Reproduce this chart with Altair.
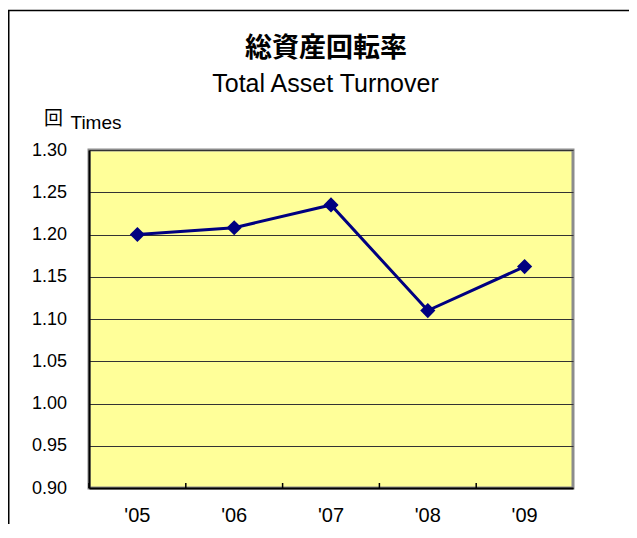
import altair as alt
import pandas as pd

# ---- data ----
YEARS = ["'05", "'06", "'07", "'08", "'09"]
TURNOVER = [1.200, 1.208, 1.235, 1.110, 1.162]
Y_TICKS = [0.90, 0.95, 1.00, 1.05, 1.10, 1.15, 1.20, 1.25, 1.30]
TITLE_JA = "総資産回転率"
TITLE_EN = "Total Asset Turnover"
UNIT_JA = "回"
UNIT_EN = "Times"

df = pd.DataFrame({"year": YEARS, "value": TURNOVER})

NAVY = "#000080"
LATIN = "Liberation Sans"
CJK = "Noto Sans CJK JP"
W, H = 484, 338
PAD = {"left": 81, "top": 142, "right": 56, "bottom": 36}

x_scale = alt.Scale(type="band", domain=YEARS, paddingInner=0, paddingOuter=0)
y_scale = alt.Scale(domain=[0.9, 1.3], nice=False, zero=False)

x_enc = alt.X(
    "year:N", sort=YEARS, scale=x_scale,
    axis=alt.Axis(title=None, labelAngle=0, ticks=False, labelPadding=33,
                  labelFont=LATIN, labelFontSize=20, labelColor="black",
                  labelBaseline="alphabetic",
                  domainColor="black", domainWidth=2, grid=False),
)
y_enc = alt.Y(
    "value:Q", scale=y_scale,
    axis=alt.Axis(title=None, values=Y_TICKS, format=".2f", ticks=False,
                  labelPadding=22.5, labelFont=LATIN, labelFontSize=18,
                  labelColor="black", domainColor="black", domainWidth=2,
                  grid=True, gridColor="#333333", gridWidth=1),
)

base = alt.Chart(df)
line = base.mark_line(color=NAVY, strokeWidth=3).encode(x=x_enc, y=y_enc)
pts = base.mark_point(shape="diamond", filled=True, size=230, color=NAVY,
                      opacity=1).encode(x=alt.X("year:N", sort=YEARS),
                                        y="value:Q")
xticks = base.mark_rule(color="black", strokeWidth=1.5).encode(
    x=alt.X("year:N", sort=YEARS, bandPosition=0),
    y=alt.value(H - 5), y2=alt.value(H))


def label(txt, x, y, font, size, weight="normal", align="left"):
    return alt.Chart(alt.Data(values=[{"t": txt}])).mark_text(
        font=font, fontSize=size, fontWeight=weight, align=align,
        baseline="alphabetic", color="black",
    ).encode(x=alt.value(x), y=alt.value(y), text="t:N")


title = label(TITLE_JA, 237, -93.5, CJK, 27, "bold", "center")
subtitle = label(TITLE_EN, 236.5, -58.3, LATIN, 25, "normal", "center")
unit_ja = label(UNIT_JA, -45, -25, CJK, 19)
unit_en = label(UNIT_EN, -18.5, -20.7, LATIN, 19)

one = alt.Data(values=[{"a": 1}])
frame_left = alt.Chart(one).mark_rule(color="black", strokeWidth=1.5).encode(
    x=alt.value(-80.25), y=alt.value(-140), y2=alt.value(H + PAD["bottom"]))
frame_top = alt.Chart(one).mark_rule(color="black", strokeWidth=1.5).encode(
    x=alt.value(-81), x2=alt.value(W + PAD["right"]), y=alt.value(-139.5))

chart = alt.layer(
    line, pts, xticks, title, subtitle, unit_ja, unit_en, frame_left, frame_top
).properties(
    width=W, height=H,
    autosize=alt.AutoSizeParams(type="none"),
    padding=PAD,
    background="white",
).configure_view(
    fill="#FFFF99", stroke="#8c8c8c", strokeWidth=3
)

chart.save("out.html", embed_options={"renderer": "svg", "actions": False})
